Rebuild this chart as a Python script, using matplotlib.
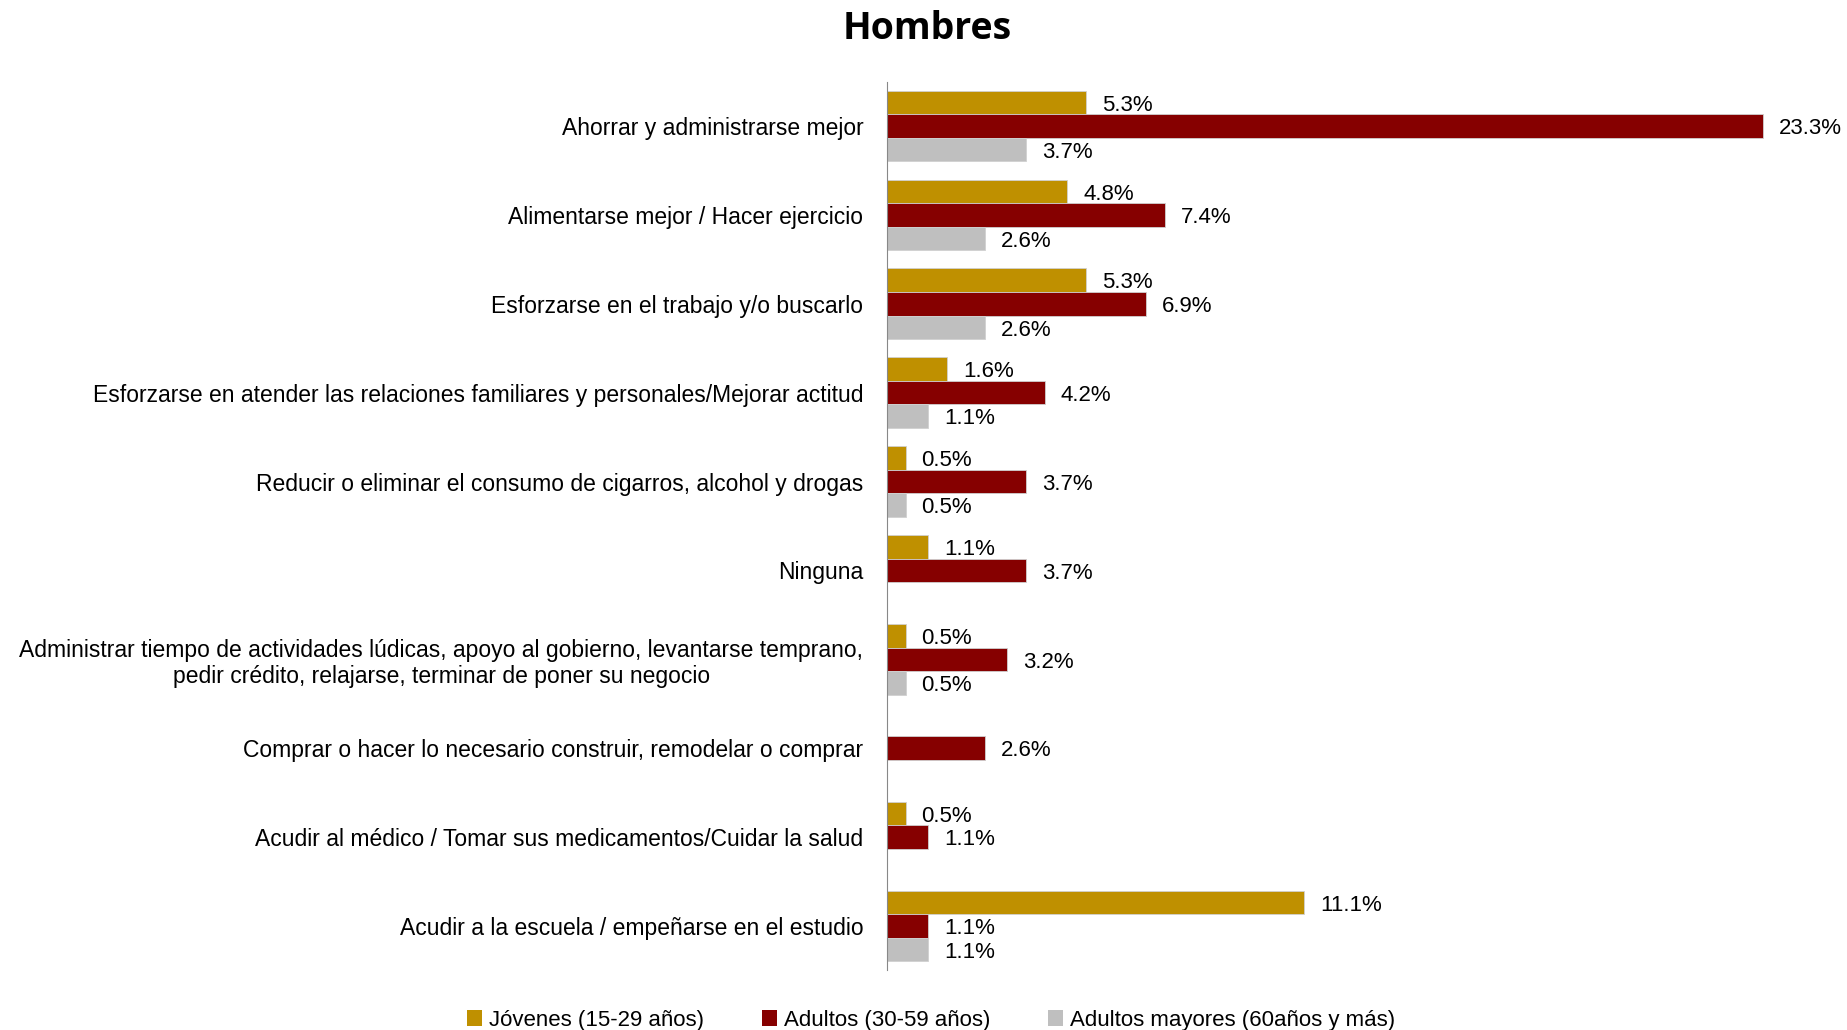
import numpy as np
import matplotlib.pyplot as plt
from matplotlib.patches import Patch

plt.rcParams['font.family'] = ['Liberation Sans', 'DejaVu Sans']

categories = [
    "Ahorrar y administrarse mejor",
    "Alimentarse mejor / Hacer ejercicio",
    "Esforzarse en el trabajo y/o buscarlo",
    "Esforzarse en atender las relaciones familiares y personales/Mejorar actitud",
    "Reducir o eliminar el consumo de cigarros, alcohol y drogas",
    "Ninguna",
    "Administrar tiempo de actividades lúdicas, apoyo al gobierno, levantarse temprano,\npedir crédito, relajarse, terminar de poner su negocio",
    "Comprar o hacer lo necesario construir, remodelar o comprar",
    "Acudir al médico / Tomar sus medicamentos/Cuidar la salud",
    "Acudir a la escuela / empeñarse en el estudio",
]
jovenes = [5.3, 4.8, 5.3, 1.6, 0.5, 1.1, 0.5, None, 0.5, 11.1]
adultos = [23.3, 7.4, 6.9, 4.2, 3.7, 3.7, 3.2, 2.6, 1.1, 1.1]
mayores = [3.7, 2.6, 2.6, 1.1, 0.5, None, 0.5, None, None, 1.1]
series_names = ["Jóvenes (15-29 años)", "Adultos (30-59 años)", "Adultos mayores (60años y más)"]
colors = ["#BF9000", "#860000", "#BFBFBF"]

fig = plt.figure(figsize=(18.47, 10.30), dpi=100)
ax = fig.add_axes([0.4802, 0.0578, 0.509, 0.863])

y = np.arange(len(categories))
h = 0.265
offsets = [-h, 0, h]
for vals, off, col in zip([jovenes, adultos, mayores], offsets, colors):
    for i, v in enumerate(vals):
        if v is None:
            continue
        ax.barh(y[i] + off, v, height=h, color=col, edgecolor='#d0d0d0', linewidth=0.6)
        ax.text(v + 0.42, y[i] + off + 0.03, f"{v:.1f}%", va='center', ha='left', fontsize=16)

ax.set_xlim(0, 25)
ax.set_ylim(len(categories) - 0.5, -0.5)
ax.set_yticks(y)
ax.set_yticklabels(categories, fontsize=16.5, ha='right', multialignment='center')
ax.tick_params(axis='y', length=0, pad=17)
ax.set_xticks([])
for s in ['top', 'right', 'bottom']:
    ax.spines[s].set_visible(False)
ax.spines['left'].set_color('#888888')
ax.set_facecolor('none')

fig.text(0.502, 0.972, "Hombres", ha='center', va='center', fontsize=27,
         fontweight='bold', family=['Open Sans', 'DejaVu Sans'])

handles = [Patch(facecolor=c, edgecolor='none') for c in colors]
fig.legend(handles, series_names, loc='lower center', bbox_to_anchor=(0.504, -0.02),
           ncol=3, frameon=False, fontsize=16, handlelength=0.7, handleheight=0.7,
           handletextpad=0.3, columnspacing=2.6)

fig.savefig("out.png", dpi=100)
